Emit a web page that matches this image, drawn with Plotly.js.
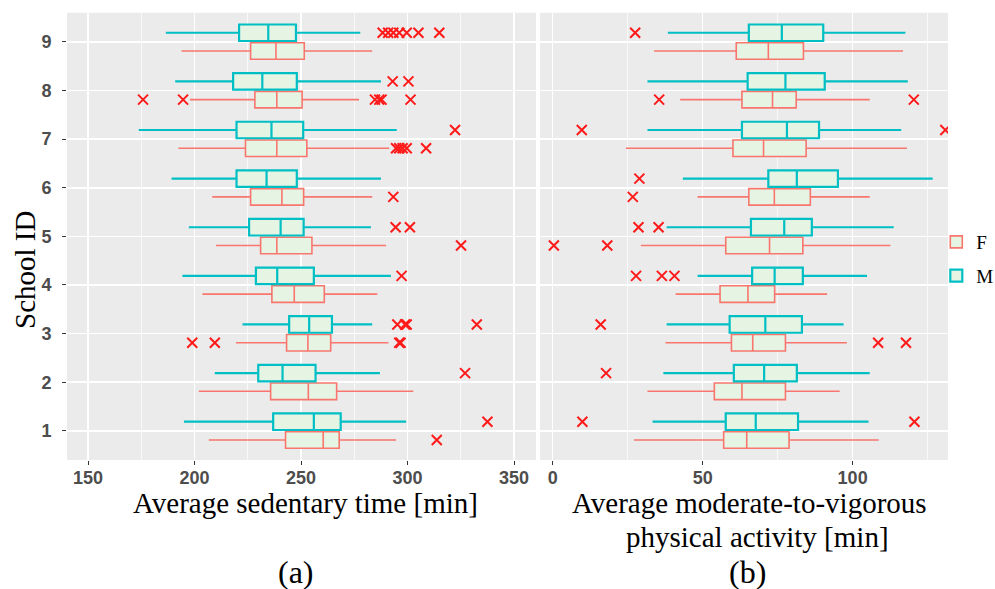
<!DOCTYPE html>
<html>
<head>
<meta charset="utf-8">
<script src="https://cdn.plot.ly/plotly-3.0.1.min.js"></script>
<style>html,body{margin:0;padding:0;background:#fff;}#chart{width:995px;height:589px;}</style>
</head>
<body>
<div id="chart"></div>
<script>
// School IDs
const schools = [1, 2, 3, 4, 5, 6, 7, 8, 9];

// Panel (a): Average sedentary time [min]
const sedF_low = [206.7, 202.0, 219.4, 203.7, 210.0, 208.3, 192.4, 197.8, 193.9];
const sedF_q1  = [242.7, 235.7, 243.2, 236.3, 231.0, 226.3, 223.9, 228.3, 226.3];
const sedF_med = [260.4, 253.4, 253.2, 246.8, 238.6, 241.0, 238.6, 238.6, 238.2];
const sedF_q3  = [267.9, 266.7, 263.9, 260.9, 255.1, 251.2, 252.7, 250.5, 251.5];
const sedF_up  = [294.6, 302.7, 291.0, 285.8, 289.9, 283.4, 291.4, 277.2, 283.4];
const sedF_out = [[313.7], [], [198.9, 209.5, 296.1, 296.7], [], [325.1], [293.3],
                  [294.6, 296.1, 297.7, 299.6, 308.7], [175.8, 194.6, 284.7, 286.7, 287.8, 301.4], []];

const sedM_low = [195.0, 209.5, 222.5, 194.3, 197.3, 189.2, 173.8, 190.9, 186.5];
const sedM_q1  = [236.9, 229.9, 244.4, 228.8, 225.6, 219.7, 219.7, 218.1, 220.9];
const sedM_med = [256.0, 241.3, 253.8, 238.8, 240.4, 233.8, 236.1, 231.8, 234.6];
const sedM_q3  = [268.6, 256.8, 264.5, 256.0, 251.2, 248.0, 251.0, 248.0, 247.6];
const sedM_up  = [299.3, 287.0, 283.4, 292.2, 282.8, 287.5, 294.9, 287.5, 277.8];
const sedM_out = [[337.5], [327.0], [295.2, 298.8, 299.6, 332.5], [297.2], [294.4, 301.1], [],
                  [322.3], [293.0, 300.4], [288.3, 290.9, 293.3, 296.1, 299.6, 305.1, 314.9]];

// Panel (b): Average moderate-to-vigorous physical activity [min]
const mvpaF_low = [27.1, 31.6, 37.6, 41.0, 29.4, 48.3, 24.4, 42.5, 33.8];
const mvpaF_q1  = [57.0, 53.9, 59.6, 55.8, 57.7, 65.4, 60.1, 63.1, 61.2];
const mvpaF_med = [64.7, 63.1, 66.7, 65.1, 72.3, 73.9, 70.3, 73.3, 71.9];
const mvpaF_q3  = [78.8, 77.6, 77.6, 74.0, 83.4, 85.9, 84.5, 81.2, 83.6];
const mvpaF_up  = [108.7, 95.7, 98.1, 91.5, 112.6, 105.7, 118.1, 105.7, 116.8];
const mvpaF_out = [[], [], [108.5, 117.8], [], [0.4, 18.2], [26.7], [], [35.5, 120.4], []];

const mvpaM_low = [33.3, 36.9, 38.0, 48.3, 38.0, 43.4, 31.6, 31.6, 38.4];
const mvpaM_q1  = [57.7, 60.4, 59.0, 66.5, 66.1, 71.9, 63.1, 65.0, 65.4];
const mvpaM_med = [67.7, 70.5, 70.9, 74.0, 77.2, 81.4, 78.1, 77.6, 76.4];
const mvpaM_q3  = [81.8, 81.4, 83.1, 83.4, 86.4, 95.1, 88.8, 90.7, 90.2];
const mvpaM_up  = [105.3, 105.7, 97.0, 104.8, 113.7, 126.7, 116.2, 118.4, 117.6];
const mvpaM_out = [[9.9, 120.6], [17.8], [16.0], [27.8, 36.4, 40.6], [28.6, 35.3], [28.9],
                   [9.7, 130.9], [], [27.5]];

const sexes = ['F', 'M'];
const titleA = 'Average sedentary time [min]';
const titleB = ['Average moderate-to-vigorous', 'physical activity [min]'];

// ---- styling ----
const colF = '#F8766D', colM = '#00BFC4', fillCol = '#E6F4E4', outCol = '#FF1A1A';
const dodge = 0.1875, boxW = 0.34;

function boxTrace(name, col, lw, off, lo, q1, med, q3, up, xa, ya, showleg) {
  return {
    type: 'box', orientation: 'h', name: name, legendgroup: name, showlegend: showleg,
    y: schools.map(s => s + off), q1: q1, median: med, q3: q3,
    lowerfence: lo, upperfence: up, width: boxW, whiskerwidth: 0,
    boxpoints: false, fillcolor: fillCol, line: {color: col, width: lw},
    xaxis: xa, yaxis: ya, hoverinfo: 'skip'
  };
}
function outTrace(outs, off, xa, ya) {
  const xs = [], ys = [];
  outs.forEach((arr, i) => arr.forEach(v => { xs.push(v); ys.push(schools[i] + off); }));
  return {
    type: 'scatter', mode: 'markers', x: xs, y: ys, showlegend: false,
    marker: {symbol: 'x-thin', size: 10, line: {color: outCol, width: 2}, color: outCol},
    xaxis: xa, yaxis: ya, hoverinfo: 'skip'
  };
}

const data = [
  boxTrace(sexes[0], colF, 1.6, -dodge, sedF_low, sedF_q1, sedF_med, sedF_q3, sedF_up, 'x', 'y', true),
  boxTrace(sexes[1], colM, 2.2, dodge, sedM_low, sedM_q1, sedM_med, sedM_q3, sedM_up, 'x', 'y', true),
  boxTrace(sexes[0], colF, 1.6, -dodge, mvpaF_low, mvpaF_q1, mvpaF_med, mvpaF_q3, mvpaF_up, 'x2', 'y2', false),
  boxTrace(sexes[1], colM, 2.2, dodge, mvpaM_low, mvpaM_q1, mvpaM_med, mvpaM_q3, mvpaM_up, 'x2', 'y2', false),
  outTrace(sedF_out, -dodge, 'x', 'y'),
  outTrace(sedM_out, dodge, 'x', 'y'),
  outTrace(mvpaF_out, -dodge, 'x2', 'y2'),
  outTrace(mvpaM_out, dodge, 'x2', 'y2')
];

const tickFont = {family: '"Liberation Sans", Arial, sans-serif', size: 18, color: '#4D4D4D', weight: 'bold'};
const serif = '"Liberation Serif", "Times New Roman", serif';
const yDom = [1 - 460 / 589, 1 - 12.7 / 589];

const common = {
  showgrid: true, gridcolor: '#FFFFFF', gridwidth: 1.6, zeroline: false, showline: false,
  ticks: 'outside', ticklen: 4, tickcolor: '#333333', tickwidth: 1, tickfont: tickFont
};

function ann(text, px, py, size, angle) {
  return {text: text, xref: 'paper', yref: 'paper', x: px / 995, y: 1 - py / 589,
          xanchor: 'center', yanchor: 'middle', textangle: angle || 0, showarrow: false,
          font: {family: serif, size: size, color: '#000'}};
}

const layout = {
  width: 995, height: 589,
  margin: {l: 0, r: 0, t: 0, b: 0, autoexpand: false},
  paper_bgcolor: '#FFFFFF', plot_bgcolor: '#EBEBEB',
  showlegend: true,
  legend: {x: 0.941, y: 1 - 223 / 589, xanchor: 'left', yanchor: 'top', bgcolor: 'rgba(0,0,0,0)',
           font: {family: serif, size: 19, color: '#000'},
           tracegroupgap: 6, itemwidth: 30},
  xaxis: Object.assign({}, common, {
    domain: [67 / 995, 536 / 995], range: [140.1, 360.3], anchor: 'y', ticklabelstandoff: -3,
    tickvals: [150, 200, 250, 300, 350],
    minor: {showgrid: true, gridcolor: '#FFFFFF', gridwidth: 0.7, tickvals: [175, 225, 275, 325], ticks: ''}
  }),
  xaxis2: Object.assign({}, common, {
    domain: [540 / 995, 948 / 995], range: [-4.23, 131.8], anchor: 'y2', ticklabelstandoff: -3,
    tickvals: [0, 50, 100],
    minor: {showgrid: true, gridcolor: '#FFFFFF', gridwidth: 0.7, tickvals: [25, 75, 125], ticks: ''}
  }),
  yaxis: Object.assign({}, common, {
    domain: yDom, range: [0.4, 9.6], anchor: 'x', ticklabelstandoff: 7,
    tickvals: schools, ticktext: schools.map(String)
  }),
  yaxis2: Object.assign({}, common, {
    domain: yDom, range: [0.4, 9.6], anchor: 'x2', showticklabels: false, ticks: '',
    tickvals: schools
  }),
  annotations: [
    ann('School ID', 25, 270, 29, -90),
    ann(titleA, 305, 503, 29),
    ann(titleB[0], 749, 503, 29),
    ann(titleB[1], 757, 537, 29),
    ann('(a)', 296, 572, 32),
    ann('(b)', 747, 572, 32)
  ]
};

Plotly.newPlot('chart', data, layout, {staticPlot: true, displayModeBar: false});
</script>
</body>
</html>
